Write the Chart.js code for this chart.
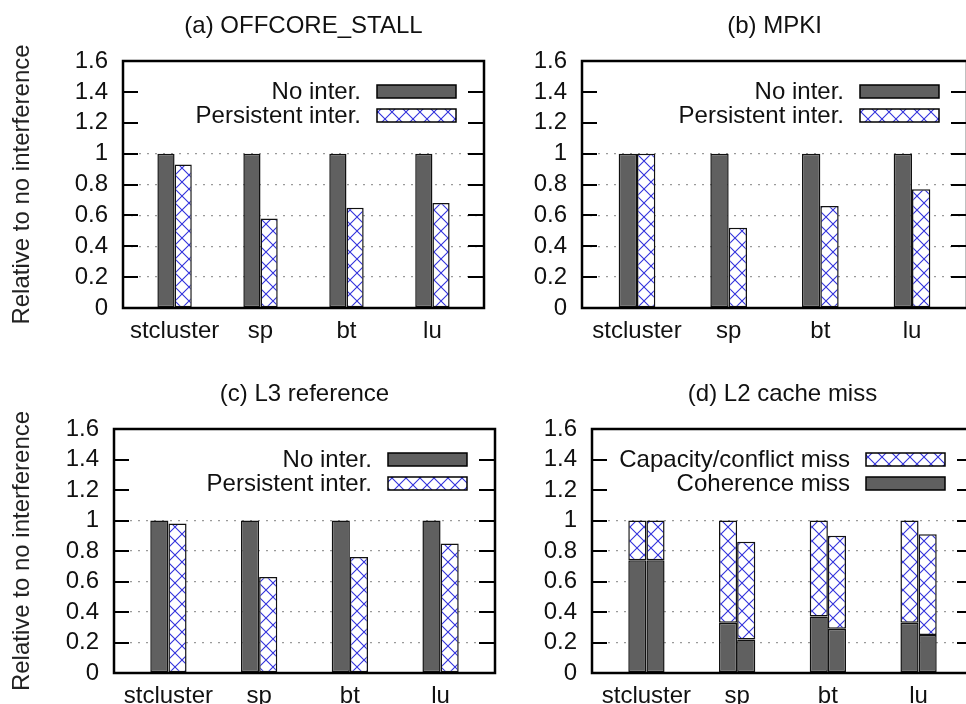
<!DOCTYPE html>
<html>
<head>
<meta charset="utf-8">
<script src="https://cdn.jsdelivr.net/npm/chart.js@4"></script>
<style>
  html, body { margin: 0; padding: 0; background: #fff; overflow: hidden; }
  body { width: 966px; height: 704px; position: relative; }
  .panel { position: absolute; }
</style>
</head>
<body>
<div class="panel" style="left:0px;top:0px;width:500px;height:352px"><canvas id="offcore"></canvas></div>
<div class="panel" style="left:483px;top:0px;width:500px;height:352px"><canvas id="mpki"></canvas></div>
<div class="panel" style="left:0px;top:352px;width:510px;height:380px"><canvas id="l3"></canvas></div>
<div class="panel" style="left:483px;top:352px;width:510px;height:380px"><canvas id="l2"></canvas></div>
<script>
// benchmarks on the x axis
const categories = ['stcluster', 'sp', 'bt', 'lu'];

// (a) OFFCORE_STALL, relative to no interference
const offcoreNoInter = [1, 1, 1, 1];
const offcorePersistent = [0.93, 0.58, 0.65, 0.68];

// (b) MPKI
const mpkiNoInter = [1, 1, 1, 1];
const mpkiPersistent = [1.0, 0.52, 0.66, 0.77];

// (c) L3 reference
const l3NoInter = [1, 1, 1, 1];
const l3Persistent = [0.98, 0.63, 0.76, 0.85];

// (d) L2 cache miss, split in coherence / capacity+conflict
const l2CoherenceNoInter = [0.74, 0.33, 0.37, 0.33];
const l2CapacityNoInter = [0.26, 0.67, 0.63, 0.67];
const l2CoherencePersistent = [0.74, 0.22, 0.29, 0.25];
const l2CapacityPersistent = [0.26, 0.64, 0.61, 0.66];

const yMin = 0, yMax = 1.6, yStep = 0.2;
const yTitle = 'Relative to no interference';

const FONT = "'Liberation Sans', Arial, Helvetica, sans-serif";
const DARK = '#606060';

function makeHatch(ctx) {
  const s = 14;
  const c = document.createElement('canvas');
  c.width = s; c.height = s;
  const g = c.getContext('2d');
  g.fillStyle = '#fff';
  g.fillRect(0, 0, s, s);
  g.strokeStyle = 'rgb(50,50,220)';
  g.lineWidth = 1.1;
  g.beginPath();
  g.moveTo(0, 0); g.lineTo(s, s);
  g.moveTo(s, 0); g.lineTo(0, s);
  g.stroke();
  return ctx.createPattern(c, 'repeat');
}

function points(values) {
  return values.map((v, i) => ({ x: i, y: v }));
}

// frame + inward tick marks on both sides (gnuplot style)
const frameTicks = {
  id: 'frameTicks',
  afterDatasetsDraw(chart) {
    const { ctx, chartArea: a, scales: { y } } = chart;
    ctx.save();
    ctx.strokeStyle = '#000';
    ctx.lineWidth = 2;
    ctx.beginPath();
    y.ticks.forEach(t => {
      if (t.value <= yMin || t.value >= yMax - 1e-9) return;
      const py = Math.round(y.getPixelForValue(t.value));
      ctx.moveTo(a.left, py); ctx.lineTo(a.left + 15, py);
      ctx.moveTo(a.right - 16, py); ctx.lineTo(a.right, py);
    });
    ctx.stroke();
    ctx.lineWidth = 2.5;
    ctx.strokeRect(a.left, a.top, a.right - a.left, a.bottom - a.top);
    ctx.restore();
  }
};

// key in the upper right corner: text, then swatch
const boxLegend = {
  id: 'boxLegend',
  afterDraw(chart, args, opts) {
    const { ctx, chartArea: a } = chart;
    const seen = [];
    chart.data.datasets.forEach(ds => {
      if (!seen.find(s => s.label === ds.label)) seen.push(ds);
    });
    const items = opts.reverse ? seen.slice().reverse() : seen;
    const boxW = 79, boxH = 13;
    const boxRight = a.right - 28;
    ctx.save();
    ctx.font = '24px ' + FONT;
    ctx.textAlign = 'right';
    ctx.textBaseline = 'middle';
    items.forEach((ds, i) => {
      const top = a.top + 24 + i * 24;
      ctx.fillStyle = ds.backgroundColor;
      ctx.fillRect(boxRight - boxW, top, boxW, boxH);
      ctx.strokeStyle = '#000';
      ctx.lineWidth = 1.5;
      ctx.strokeRect(boxRight - boxW, top, boxW, boxH);
      ctx.fillStyle = '#111';
      ctx.fillText(ds.label, boxRight - boxW - 16, top + boxH / 2 + 1);
    });
    ctx.restore();
  }
};

function drawPanel(id, geom, title, datasets, showYTitle, reverseKey) {
  const canvas = document.getElementById(id);
  const hatch = makeHatch(canvas.getContext('2d'));
  datasets.forEach(ds => {
    ds.backgroundColor = ds.hatched ? hatch : DARK;
    ds.borderColor = '#111';
    ds.borderWidth = 1.5;
    ds.borderSkipped = false;
    ds.inflateAmount = 0;
    ds.categoryPercentage = 0.4;
    ds.barPercentage = 1.0;
  });
  return new Chart(canvas, {
    type: 'bar',
    data: { datasets },
    plugins: [frameTicks, boxLegend],
    options: {
      responsive: true,
      maintainAspectRatio: false,
      animation: false,
      events: [],
      layout: { padding: { left: 0, top: 0, right: geom.padRight, bottom: 0 } },
      plugins: {
        legend: { display: false },
        tooltip: { enabled: false },
        title: {
          display: true,
          text: title,
          fullSize: false,
          color: '#111',
          font: { family: FONT, size: 24, weight: 'normal' },
          padding: { top: geom.top - 35 - 14.4, bottom: 35 - 14.4 }
        },
        boxLegend: { reverse: reverseKey }
      },
      scales: {
        x: {
          type: 'linear',
          min: -0.6,
          max: 3.6,
          offset: false,
          grid: { display: false },
          border: { display: false },
          afterBuildTicks: s => { s.ticks = categories.map((c, i) => ({ value: i })); },
          afterFit: s => { s.height = geom.xHeight; },
          ticks: {
            autoSkip: false,
            maxRotation: 0,
            padding: 1,
            color: '#111',
            font: { family: FONT, size: 24 },
            callback: v => categories[v]
          }
        },
        y: {
          min: yMin,
          max: yMax,
          border: { display: false, dash: [2, 6] },
          grid: {
            drawTicks: false,
            lineWidth: 1.3,
            color: c => (c.tick && c.tick.value > 0.01 && c.tick.value < 1.01) ? '#9a9a9a' : 'rgba(0,0,0,0)'
          },
          afterFit: s => { s.width = geom.yWidth; },
          ticks: {
            stepSize: yStep,
            autoSkip: false,
            padding: 15,
            color: '#111',
            font: { family: FONT, size: 24 },
            callback: v => String(+v.toFixed(1))
          },
          title: {
            display: showYTitle,
            text: yTitle,
            color: '#222',
            font: { family: FONT, size: 24 },
            padding: { top: 8, bottom: 0 }
          }
        }
      }
    }
  });
}

drawPanel('offcore', { top: 61, yWidth: 123, xHeight: 44, padRight: 16 }, '(a) OFFCORE_STALL', [
  { label: 'No inter.', data: points(offcoreNoInter) },
  { label: 'Persistent inter.', data: points(offcorePersistent), hatched: true }
], true, false);

drawPanel('mpki', { top: 61, yWidth: 99, xHeight: 44, padRight: 16 }, '(b) MPKI', [
  { label: 'No inter.', data: points(mpkiNoInter) },
  { label: 'Persistent inter.', data: points(mpkiPersistent), hatched: true }
], false, false);

drawPanel('l3', { top: 77, yWidth: 114, xHeight: 59, padRight: 15 }, '(c) L3 reference', [
  { label: 'No inter.', data: points(l3NoInter) },
  { label: 'Persistent inter.', data: points(l3Persistent), hatched: true }
], true, false);

drawPanel('l2', { top: 77, yWidth: 109, xHeight: 59, padRight: 20 }, '(d) L2 cache miss', [
  { label: 'Coherence miss', data: points(l2CoherenceNoInter), stack: 'none' },
  { label: 'Capacity/conflict miss', data: points(l2CapacityNoInter), stack: 'none', hatched: true },
  { label: 'Coherence miss', data: points(l2CoherencePersistent), stack: 'persistent' },
  { label: 'Capacity/conflict miss', data: points(l2CapacityPersistent), stack: 'persistent', hatched: true }
], false, true);
</script>
</body>
</html>
